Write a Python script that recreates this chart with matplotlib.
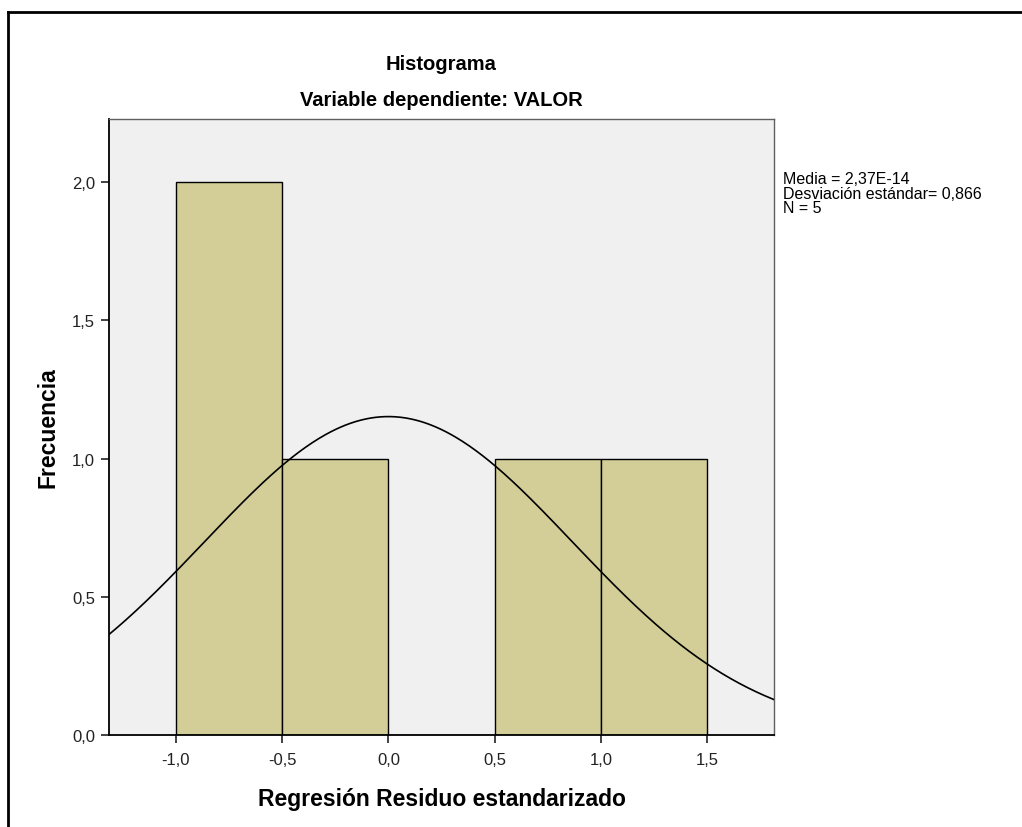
import numpy as np
import matplotlib
matplotlib.use("Agg")
import matplotlib.pyplot as plt
from matplotlib.ticker import FuncFormatter

plt.rcParams['font.family'] = ['Liberation Sans', 'DejaVu Sans']

# histograma de residuos estandarizados
bin_edges = [-1.0, -0.5, 0.0, 0.5, 1.0, 1.5]
counts = [2, 1, 0, 1, 1]
media = 2.37e-14
desv = 0.866
n = 5
xticks = [-1.0, -0.5, 0.0, 0.5, 1.0, 1.5]
yticks = [0.0, 0.5, 1.0, 1.5, 2.0]

fig = plt.figure(figsize=(10.22, 8.28), dpi=100)
ax = fig.add_axes([109 / 1022, 1 - 736 / 828, 665 / 1022, 616 / 828])
ax.set_facecolor("#f0f0f0")

widths = np.diff(bin_edges)
ax.bar(bin_edges[:-1], counts, width=widths, align="edge",
       color="#d3ce97", edgecolor="black", linewidth=1.0, zorder=2)

# curva normal ajustada (media, desviacion, N * ancho de clase)
xs = np.linspace(-1.315, 1.815, 400)
bw = widths[0]
ys = n * bw / (desv * np.sqrt(2 * np.pi)) * np.exp(-0.5 * ((xs - media) / desv) ** 2)
ax.plot(xs, ys, color="black", linewidth=1.2, zorder=3)

ax.set_xlim(-1.315, 1.815)
ax.set_ylim(0, 2.228)
ax.set_xticks(xticks)
ax.set_yticks(yticks)
fmt = FuncFormatter(lambda v, p: f"{v:.1f}".replace(".", ","))
ax.xaxis.set_major_formatter(fmt)
ax.yaxis.set_major_formatter(fmt)
ax.tick_params(direction="out", length=6, width=1.2, labelsize=12, pad=4, colors="#222222")
ax.tick_params(axis="x", pad=6)

for s in ["left", "bottom"]:
    ax.spines[s].set_color("black")
    ax.spines[s].set_linewidth(1.3)
for s in ["top", "right"]:
    ax.spines[s].set_color("#606060")
    ax.spines[s].set_linewidth(1.0)

ax.set_xlabel("Regresión Residuo estandarizado", fontsize=16.5, fontweight="bold", labelpad=15)
ax.set_ylabel("Frecuencia", fontsize=16.5, fontweight="bold", labelpad=9)

fig.text(441 / 1022, 1 - 65 / 828, "Histograma", ha="center", va="center",
         fontsize=14.5, fontweight="bold")
fig.text(441 / 1022, 1 - 100 / 828, "Variable dependiente: VALOR", ha="center", va="center",
         fontsize=14.5, fontweight="bold")

stats = (f"Media = {media:.2E}".replace(".", ",")
         + f"\nDesviación estándar= {desv:.3f}".replace(".", ",")
         + f"\nN = {n}")
fig.text(783 / 1022, 1 - 172 / 828, stats, ha="left", va="top", fontsize=11.5, linespacing=0.96)

# marco exterior (solo borde superior e izquierdo visibles)
fig.add_artist(plt.Line2D([8 / 1022, 8 / 1022], [0, 1 - 13 / 828], color="black", linewidth=2))
fig.add_artist(plt.Line2D([8 / 1022, 1], [1 - 13 / 828, 1 - 13 / 828], color="black", linewidth=2))

fig.savefig("out.png", dpi=100)
